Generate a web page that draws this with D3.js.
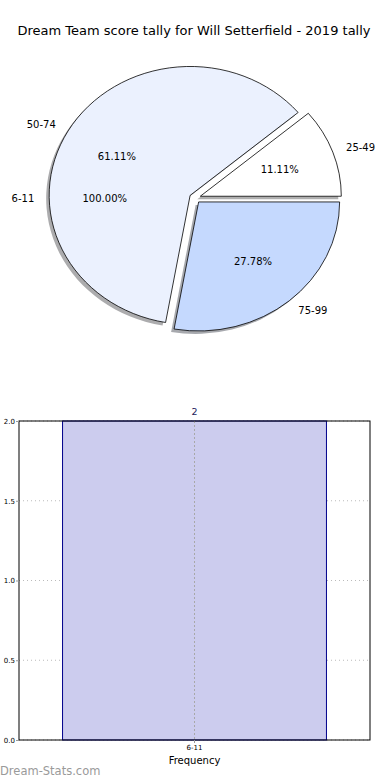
<!DOCTYPE html>
<html>
<head>
<meta charset="utf-8">
<script src="https://cdn.jsdelivr.net/npm/d3@7"></script>
<style>
  body { margin: 0; background: #ffffff; }
  text { font-family: 'DejaVu Sans', sans-serif; }
</style>
</head>
<body>
<div id="container"></div>
<script>
var title = 'Dream Team score tally for Will Setterfield - 2019 tally'

// pie: score bands and how many rounds fell in each
var pieLabels = ['25-49', '50-74', '75-99']
var pieValues = [2, 11, 5]
var pieColors = ['#ffffff', '#ebf1fe', '#c5d9fe']

// second pie that only leaves its labels behind
var overlayLabels = ['6-11']
var overlayValues = [2]

// bar chart
var barCategories = ['6-11']
var barValues = [2]
var yTicks = [0, 0.5, 1.0, 1.5, 2.0]

var width = 390
var height = 780

var svgContainer = d3.select('#container').append('svg')
    .attr('width', width)
    .attr('height', height)

svgContainer.append('text')
    .attr('x', 194)
    .attr('y', 35)
    .attr('text-anchor', 'middle')
    .attr('font-size', 13)
    .attr('fill', '#000')
    .text(title)

// ---------- pie ----------
var cx = 195
var cy = 198
var rx = 141
var ry = 129
var explode = 0.04

// matplotlib starts at east and runs counter clockwise
var pie = d3.pie().sort(null).startAngle(Math.PI / 2).endAngle(Math.PI / 2 - 2 * Math.PI)
var unitArc = d3.arc().innerRadius(0).outerRadius(1)

function midAngle(d){
    return (d.startAngle + d.endAngle) / 2
}

function sliceOffset(d){
    var a = midAngle(d)
    return [Math.sin(a) * explode, -Math.cos(a) * explode]
}

function pointAt(d, dist){
    var a = midAngle(d)
    var off = sliceOffset(d)
    return [cx + (off[0] + Math.sin(a) * dist) * rx, cy + (off[1] - Math.cos(a) * dist) * ry]
}

function shade(c){
    var col = d3.rgb(c)
    return d3.rgb(col.r * 0.3, col.g * 0.3, col.b * 0.3).toString()
}

var pieGroup = svgContainer.append('g')
var slices = pie(pieValues)

slices.forEach(function(d, i){
    var off = sliceOffset(d)
    // shadow, shifted left and down
    pieGroup.append('path')
        .attr('d', unitArc(d))
        .attr('transform', 'translate(' + (cx + off[0] * rx - 3) + ',' + (cy + off[1] * ry + 3) + ') scale(' + rx + ',' + ry + ')')
        .attr('fill', shade(pieColors[i]))
        .attr('opacity', 0.45)

    pieGroup.append('path')
        .attr('d', unitArc(d))
        .attr('transform', 'translate(' + (cx + off[0] * rx) + ',' + (cy + off[1] * ry) + ') scale(' + rx + ',' + ry + ')')
        .attr('fill', pieColors[i])
        .attr('stroke', '#000')
        .attr('stroke-width', 0.8)
        .attr('vector-effect', 'non-scaling-stroke')
})

function drawPieLabels(labels, values){
    var s = pie(values)
    var sum = d3.sum(values)
    s.forEach(function(d, i){
        var lp = pointAt(d, 1.1)
        var pp = pointAt(d, 0.6)
        svgContainer.append('text')
            .attr('x', lp[0])
            .attr('y', lp[1])
            .attr('dy', '0.35em')
            .attr('text-anchor', lp[0] < cx ? 'end' : 'start')
            .attr('font-size', 10)
            .text(labels[i])
        svgContainer.append('text')
            .attr('x', pp[0])
            .attr('y', pp[1])
            .attr('dy', '0.35em')
            .attr('text-anchor', 'middle')
            .attr('font-size', 10)
            .text((100 * values[i] / sum).toFixed(2) + '%')
    })
}

drawPieLabels(pieLabels, pieValues)
drawPieLabels(overlayLabels, overlayValues)

// ---------- bar chart ----------
var plotLeft = 19
var plotRight = 370
var plotTop = 421
var plotBottom = 740

var x = d3.scaleBand()
    .domain(barCategories)
    .range([plotLeft, plotRight])
    .paddingInner(0)
    .paddingOuter(0.165)

var y = d3.scaleLinear()
    .domain([0, 2.0])
    .range([plotBottom, plotTop])

// grid
svgContainer.append('g').selectAll('line')
    .data(yTicks)
    .enter()
    .append('line')
    .attr('x1', plotLeft)
    .attr('x2', plotRight)
    .attr('y1', function(d){ return y(d) })
    .attr('y2', function(d){ return y(d) })
    .attr('stroke', '#bbbbbb')
    .attr('stroke-dasharray', '1,3')

svgContainer.append('g').selectAll('rect')
    .data(barValues)
    .enter()
    .append('rect')
    .attr('x', function(d, i){ return x(barCategories[i]) })
    .attr('y', function(d){ return y(d) })
    .attr('width', x.bandwidth())
    .attr('height', function(d){ return plotBottom - y(d) })
    .attr('fill', '#ccccee')
    .attr('stroke', '#00008b')
    .attr('stroke-width', 1)

svgContainer.append('g').selectAll('line')
    .data(barCategories)
    .enter()
    .append('line')
    .attr('x1', function(d){ return x(d) + x.bandwidth() / 2 })
    .attr('x2', function(d){ return x(d) + x.bandwidth() / 2 })
    .attr('y1', plotTop)
    .attr('y2', plotBottom)
    .attr('stroke', '#a8a8a8')
    .attr('stroke-dasharray', '2,2')

// value labels above the bars
svgContainer.append('g').selectAll('text')
    .data(barValues)
    .enter()
    .append('text')
    .attr('x', function(d, i){ return x(barCategories[i]) + x.bandwidth() / 2 })
    .attr('y', function(d){ return y(d) - 6 })
    .attr('text-anchor', 'middle')
    .attr('font-size', 9.5)
    .attr('fill', '#1a1a5a')
    .text(function(d){ return d })

// frame
svgContainer.append('rect')
    .attr('x', plotLeft)
    .attr('y', plotTop)
    .attr('width', plotRight - plotLeft)
    .attr('height', plotBottom - plotTop)
    .attr('fill', 'none')
    .attr('stroke', '#000')
    .attr('stroke-width', 1)

var yAxis = svgContainer.append('g')
    .attr('transform', 'translate(' + plotLeft + ',0)')
    .call(d3.axisLeft(y).tickValues(yTicks).tickFormat(d3.format('.1f')).tickSize(3).tickPadding(1))
yAxis.select('.domain').remove()
yAxis.selectAll('line').attr('stroke', '#999')
yAxis.selectAll('text').attr('font-size', 7).attr('font-family', 'DejaVu Sans').attr('fill', '#000')

var xAxis = svgContainer.append('g')
    .attr('transform', 'translate(0,' + plotBottom + ')')
    .call(d3.axisBottom(x).tickSize(3).tickPadding(2))
xAxis.select('.domain').remove()
xAxis.selectAll('line').attr('stroke', '#999')
xAxis.selectAll('text').attr('font-size', 7).attr('font-family', 'DejaVu Sans').attr('fill', '#000')

svgContainer.append('text')
    .attr('x', (plotLeft + plotRight) / 2)
    .attr('y', 764)
    .attr('text-anchor', 'middle')
    .attr('font-size', 10)
    .text('Frequency')

svgContainer.append('text')
    .attr('x', 0)
    .attr('y', 775)
    .attr('font-size', 11.5)
    .attr('fill', '#9a9a9a')
    .text('Dream-Stats.com')
</script>
</body>
</html>
